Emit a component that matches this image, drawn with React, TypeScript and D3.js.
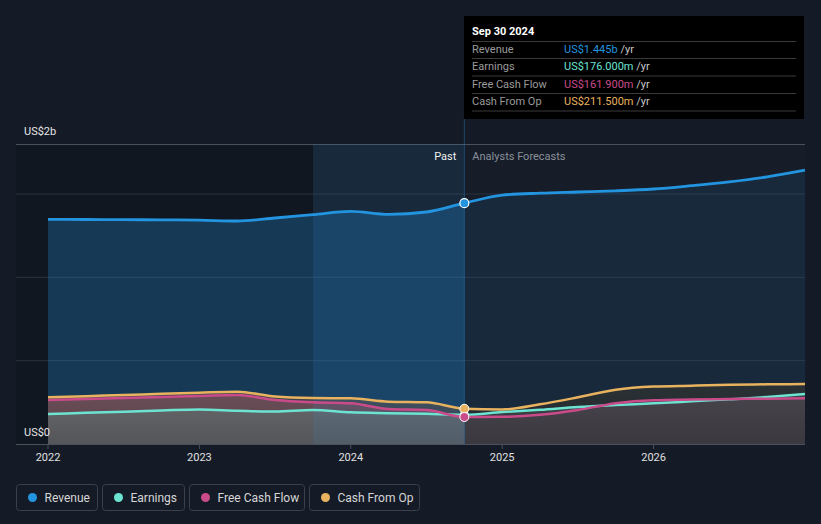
import * as d3 from "d3";

// values in US$ billions, time in decimal years (quarter ends)
const pastYears = [2022.0, 2022.25, 2022.5, 2022.75, 2023.0, 2023.25, 2023.5, 2023.75, 2024.0, 2024.25, 2024.5, 2024.75];
const forecastYears = [2024.75, 2025.0, 2025.25, 2025.5, 2025.75, 2026.0, 2026.25, 2026.5, 2026.75, 2027.0];

const revenuePast = [1.348, 1.347, 1.346, 1.345, 1.343, 1.338, 1.356, 1.376, 1.396, 1.378, 1.392, 1.445];
const revenueForecast = [1.445, 1.493, 1.505, 1.512, 1.519, 1.53, 1.55, 1.573, 1.603, 1.643];

const earningsPast = [0.18, 0.187, 0.194, 0.201, 0.207, 0.2, 0.195, 0.204, 0.19, 0.185, 0.181, 0.176];
const earningsForecast = [0.176, 0.192, 0.205, 0.222, 0.234, 0.244, 0.256, 0.268, 0.282, 0.3];

const fcfPast = [0.264, 0.27, 0.276, 0.282, 0.288, 0.294, 0.264, 0.25, 0.244, 0.21, 0.204, 0.1619];
const fcfForecast = [0.1619, 0.163, 0.175, 0.204, 0.245, 0.263, 0.267, 0.27, 0.272, 0.274];

const cfoPast = [0.28, 0.287, 0.294, 0.301, 0.308, 0.314, 0.285, 0.276, 0.274, 0.254, 0.25, 0.2115];
const cfoForecast = [0.2115, 0.207, 0.238, 0.28, 0.326, 0.345, 0.35, 0.355, 0.358, 0.36];

const xTicks = [2022, 2023, 2024, 2025, 2026];
const gridValues = [0.5, 1.0, 1.5];

const tooltipRows = [
  { label: "Revenue", value: "US$1.445b", color: "#2394df" },
  { label: "Earnings", value: "US$176.000m", color: "#6de3d2" },
  { label: "Free Cash Flow", value: "US$161.900m", color: "#c94b8a" },
  { label: "Cash From Op", value: "US$211.500m", color: "#e8b25f" },
];

const legendItems = [
  { label: "Revenue", color: "#2394df", w: 81 },
  { label: "Earnings", color: "#6de3d2", w: 82 },
  { label: "Free Cash Flow", color: "#c94b8a", w: 115 },
  { label: "Cash From Op", color: "#e8b25f", w: 110 },
];

const W = 821;
const H = 524;
const plotLeft = 16;
const plotRight = 805;
const nowYear = 2024.75;
const highlightStart = 2023.75;

type Pt = { t: number; v: number };
const join = (a: number[], b: number[]): Pt[] => [
  ...pastYears.map((t, i) => ({ t, v: a[i] })),
  ...forecastYears.slice(1).map((t, i) => ({ t, v: b[i + 1] })),
];

export default function App() {
  const x = d3.scaleLinear().domain([2022, 2027]).range([48, 805]);
  const y = d3.scaleLinear().domain([0, 1.8]).range([444, 144]);

  const line = d3.line<Pt>().x((d) => x(d.t)).y((d) => y(d.v)).curve(d3.curveMonotoneX);
  const area = d3
    .area<Pt>()
    .x((d) => x(d.t))
    .y0(y(0))
    .y1((d) => y(d.v))
    .curve(d3.curveMonotoneX);

  const revenue = join(revenuePast, revenueForecast);
  const earnings = join(earningsPast, earningsForecast);
  const fcf = join(fcfPast, fcfForecast);
  const cfo = join(cfoPast, cfoForecast);

  const xNow = x(nowYear);
  const xHi = x(highlightStart);
  const font = "Roboto, 'Open Sans', sans-serif";

  const lowerSeries = [
    { d: cfo, past: "rgba(200,120,60,0.25)", fut: "rgba(180,110,20,0.12)" },
    { d: fcf, past: "rgba(210,100,120,0.3)", fut: "rgba(200,80,130,0.08)" },
    { d: earnings, past: "rgba(102,147,142,0.4)", fut: "rgba(150,150,160,0.2)" },
  ];

  return (
    <svg
      width={W}
      height={H}
      style={{ position: "absolute", left: 0, top: 0, fontFamily: font }}
    >
      <defs>
        <clipPath id="pastClip">
          <rect x={plotLeft} y={0} width={xNow - plotLeft} height={H} />
        </clipPath>
        <clipPath id="futClip">
          <rect x={xNow} y={0} width={plotRight - xNow} height={H} />
        </clipPath>
        <clipPath id="lowClip">
          {lowerSeries.map((s, i) => (
            <path key={i} d={area(s.d) ?? ""} />
          ))}
        </clipPath>
        <linearGradient id="shade" x1="0" y1="0" x2="0" y2="1">
          <stop offset="0" stopColor="#000" stopOpacity={0} />
          <stop offset="1" stopColor="#000" stopOpacity={0.2} />
        </linearGradient>
      </defs>

      <rect x={0} y={0} width={W} height={H} fill="#151b26" />
      <rect x={plotLeft} y={144} width={plotRight - plotLeft} height={300} fill="#161d29" />
      <rect x={plotLeft} y={144} width={xHi - plotLeft} height={300} fill="#000" opacity={0.2} />

      {/* grid */}
      {gridValues.map((g) => (
        <line key={g} x1={plotLeft} x2={plotRight} y1={y(g)} y2={y(g)} stroke="#2a3341" strokeWidth={1} />
      ))}
      <line x1={plotLeft} x2={plotRight} y1={144.5} y2={144.5} stroke="#4a505c" strokeWidth={1} />

      {/* revenue area */}
      <path d={area(revenue) ?? ""} fill="rgba(35,148,223,0.28)" clipPath="url(#pastClip)" />
      <path d={area(revenue) ?? ""} fill="rgba(35,148,223,0.1)" clipPath="url(#futClip)" />

      {/* lower areas */}
      {lowerSeries.map((s, i) => (
        <g key={i}>
          <path d={area(s.d) ?? ""} fill={s.past} clipPath="url(#pastClip)" />
          <path d={area(s.d) ?? ""} fill={s.fut} clipPath="url(#futClip)" />
        </g>
      ))}
      <rect x={48} y={385} width={757} height={59} fill="url(#shade)" clipPath="url(#lowClip)" />

      {/* highlight of last year */}
      <rect x={xHi} y={144} width={xNow - xHi} height={300} fill="#2394df" opacity={0.1} />

      {/* lines */}
      <path d={line(earnings) ?? ""} fill="none" stroke="#6de3d2" strokeWidth={2.5} />
      <path d={line(fcf) ?? ""} fill="none" stroke="#c94b8a" strokeWidth={2.5} />
      <path d={line(cfo) ?? ""} fill="none" stroke="#e8b25f" strokeWidth={2.5} />
      <path d={line(revenue) ?? ""} fill="none" stroke="#2394df" strokeWidth={2.8} />

      {/* now marker line */}
      <line x1={xNow} x2={xNow} y1={119} y2={444} stroke="#2394df" strokeOpacity={0.35} strokeWidth={1} />

      {/* markers */}
      <circle cx={xNow} cy={y(earningsPast[11])} r={4} fill="#6de3d2" stroke="#fff" strokeWidth={1} />
      <circle cx={xNow} cy={y(cfoPast[11])} r={4.5} fill="#e8b25f" stroke="#fff" strokeWidth={1} />
      <circle cx={xNow} cy={y(fcfPast[11])} r={4.5} fill="#c94b8a" stroke="#fff" strokeWidth={1} />
      <circle cx={xNow} cy={y(revenuePast[11])} r={4.5} fill="#2394df" stroke="#fff" strokeWidth={1.2} />

      {/* x axis */}
      <line x1={plotLeft} x2={plotRight} y1={444.5} y2={444.5} stroke="#4a505c" strokeWidth={1} />
      {xTicks.map((t) => (
        <g key={t}>
          <line x1={x(t)} x2={x(t)} y1={444} y2={449} stroke="#4a505c" />
          <text x={x(t)} y={461} fill="#e0e0e0" fontSize={11} textAnchor="middle">
            {t}
          </text>
        </g>
      ))}

      {/* y labels */}
      <text x={24} y={135} fill="#e6e6e6" fontSize={11}>US$2b</text>
      <text x={24} y={436} fill="#e6e6e6" fontSize={11}>US$0</text>

      {/* past / forecast */}
      <text x={xNow - 8} y={160} fill="#f0f0f0" fontSize={11} textAnchor="end">Past</text>
      <text x={xNow + 8} y={160} fill="#8a9099" fontSize={11}>Analysts Forecasts</text>

      {/* tooltip */}
      <rect x={464} y={16} width={340} height={103} fill="#000" />
      <text x={472} y={35} fill="#fff" fontSize={11} fontWeight="bold">Sep 30 2024</text>
      {[41.5, 58.5, 76, 93.5, 111].map((ly) => (
        <line key={ly} x1={472} x2={796} y1={ly} y2={ly} stroke="#3a3a3a" />
      ))}
      {tooltipRows.map((r, i) => {
        const by = 53 + i * 17.4;
        return (
          <g key={r.label}>
            <text x={472} y={by} fill="#9a9a9a" fontSize={11}>{r.label}</text>
            <text x={564} y={by} fontSize={11}>
              <tspan fill={r.color}>{r.value}</tspan>
              <tspan fill="#c8c8c8"> /yr</tspan>
            </text>
          </g>
        );
      })}

      {/* legend */}
      {legendItems.map((it, i) => {
        const lx = [16.5, 102.5, 189.5, 309.5][i];
        return (
          <g key={it.label}>
            <rect x={lx} y={484.5} width={it.w} height={26} rx={3} fill="none" stroke="#3a404c" />
            <circle cx={lx + 16} cy={497.5} r={4.5} fill={it.color} />
            <text x={lx + 28} y={501.5} fill="#d6d6d6" fontSize={12}>{it.label}</text>
          </g>
        );
      })}
    </svg>
  );
}
